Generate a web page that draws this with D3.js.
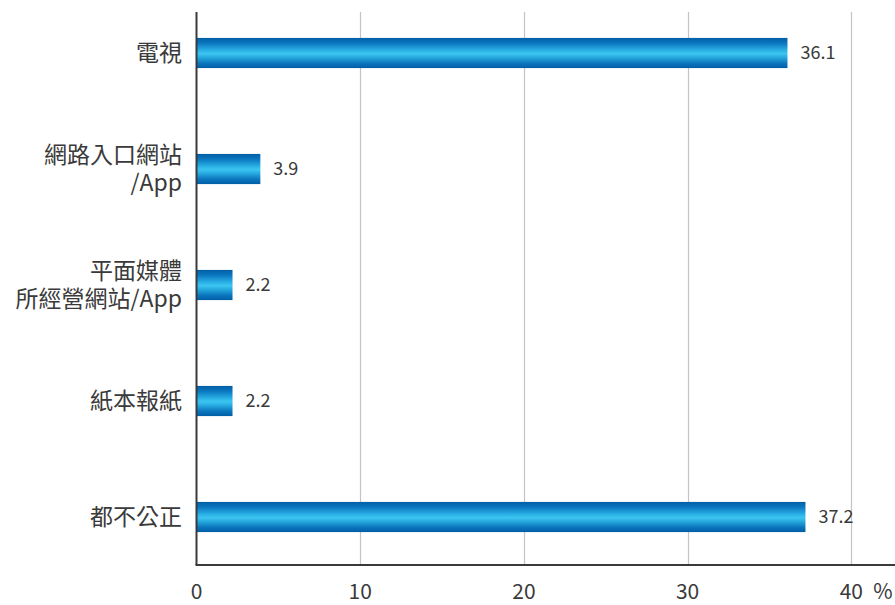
<!DOCTYPE html>
<html>
<head>
<meta charset="utf-8">
<script src="https://cdn.jsdelivr.net/npm/d3@7"></script>
<style>
  html, body { margin: 0; padding: 0; background: #fff; }
  svg { display: block; }
  text { font-family: "Noto Sans CJK TC", "Noto Sans", sans-serif; fill: #3a3a3a; }
</style>
</head>
<body>
<svg id="chart" width="895" height="605"></svg>
<script>
// Category labels (multi-line labels split on "\n")
const categories = ["電視", "網路入口網站\n/App", "平面媒體\n所經營網站/App", "紙本報紙", "都不公正"];
// Percentages
const values = [36.1, 3.9, 2.2, 2.2, 37.2];
// x-axis ticks
const tickValues = [0, 10, 20, 30, 40];
const unitLabel = "%";

const svg = d3.select("#chart");
const plotTop = 12, plotBottom = 565, plotLeft = 196.5;

const x = d3.scaleLinear().domain([0, 40]).range([plotLeft, plotLeft + 40 * 16.37]);
const y = d3.scaleBand().domain(categories).range([-5, 575]).paddingInner(0.74).paddingOuter(0.37);

// Bar gradient: dark blue edges, bright cyan middle
const defs = svg.append("defs");
const grad = defs.append("linearGradient").attr("id", "barGrad")
  .attr("x1", 0).attr("y1", 0).attr("x2", 0).attr("y2", 1);
[[0, "#005ea6"], [0.18, "#0b78c0"], [0.42, "#2bb2e6"], [0.52, "#3cc4f0"], [0.62, "#2bb0e4"], [0.85, "#0a74bc"], [1, "#005ea6"]]
  .forEach(([o, c]) => grad.append("stop").attr("offset", o).attr("stop-color", c));

// Vertical gridlines
svg.append("g").selectAll("line").data(tickValues.filter(d => d > 0)).join("line")
  .attr("x1", d => Math.round(x(d)) + 0.5).attr("x2", d => Math.round(x(d)) + 0.5)
  .attr("y1", plotTop).attr("y2", plotBottom)
  .attr("stroke", "#c4c4c4").attr("stroke-width", 1.2);

// Bars
svg.append("g").selectAll("rect").data(categories).join("rect")
  .attr("x", x(0))
  .attr("y", d => y(d))
  .attr("width", (d, i) => x(values[i]) - x(0))
  .attr("height", y.bandwidth())
  .attr("fill", "url(#barGrad)");

// Value labels
svg.append("g").selectAll("text").data(categories).join("text")
  .attr("x", (d, i) => x(values[i]) + 13)
  .attr("y", d => y(d) + y.bandwidth() / 2)
  .attr("dy", "0.36em")
  .attr("font-size", 18)
  .text((d, i) => values[i].toFixed(1));

// Axes lines
svg.append("line").attr("x1", plotLeft).attr("x2", plotLeft).attr("y1", plotTop).attr("y2", plotBottom)
  .attr("stroke", "#3a3a3a").attr("stroke-width", 2);
svg.append("line").attr("x1", plotLeft - 1).attr("x2", 895).attr("y1", plotBottom).attr("y2", plotBottom)
  .attr("stroke", "#3a3a3a").attr("stroke-width", 2);

// Category labels
const catG = svg.append("g");
categories.forEach(c => {
  const lines = c.split("\n");
  const cy = y(c) + y.bandwidth() / 2;
  const lh = 28;
  const t = catG.append("text").attr("text-anchor", "end").attr("font-size", 23);
  lines.forEach((ln, j) => {
    t.append("tspan").attr("x", 182)
      .attr("y", cy + (j - (lines.length - 1) / 2) * lh)
      .attr("dy", "0.36em")
      .text(ln);
  });
});

// Tick labels
svg.append("g").selectAll("text").data(tickValues).join("text")
  .attr("x", d => x(d)).attr("y", 599)
  .attr("text-anchor", "middle")
  .attr("font-size", 21)
  .text(d => d);
svg.append("text").attr("x", x(40) + 22).attr("y", 599).attr("font-size", 21).text(unitLabel);
</script>
</body>
</html>
